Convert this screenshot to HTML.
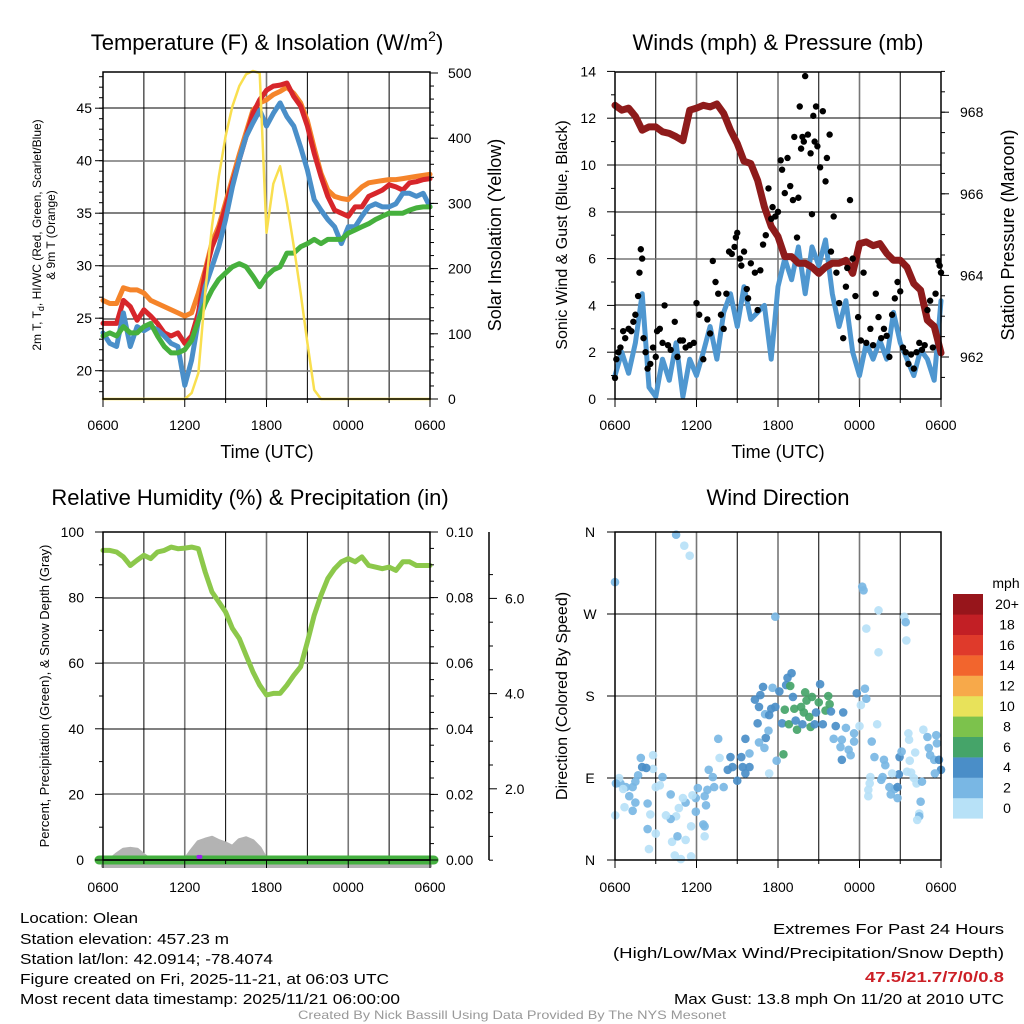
<!DOCTYPE html>
<html><head><meta charset="utf-8"><style>
html,body{margin:0;padding:0;background:#fff}
svg{display:block;font-family:"Liberation Sans",sans-serif}
</style></head><body>
<svg id="c" width="1024" height="1024" viewBox="0 0 1024 1024"></svg>
<script>
// ---------- DATA ----------
const hoursHalf=[];for(let i=0;i<=48;i++)hoursHalf.push(i/2);
const tempRed=[24.5,24.5,24.5,26.7,26.1,24.8,25.8,25.2,24.5,23.6,23.3,23.6,22.6,23.3,25.5,29.3,31.8,33.4,35.6,37.9,40.1,42.3,44.5,45.8,46.7,47.1,47.2,47.4,46.1,45.2,43.3,40.7,38.5,36.6,35.3,35.0,34.7,35.6,35.6,36.6,36.9,37.2,37.7,37.5,37.2,37.9,38.0,38.2,38.3];
const tempOrange=[26.7,26.4,26.4,27.9,27.7,27.7,27.4,26.7,26.4,26.1,25.8,25.5,25.2,25.5,27.4,29.6,32.2,33.8,36.0,38.3,40.6,42.7,44.8,45.5,45.8,46.3,46.6,47.0,46.4,45.5,43.8,41.2,38.8,37.2,36.6,36.4,36.3,36.9,37.5,37.9,38.0,38.1,38.2,38.2,38.3,38.4,38.5,38.6,38.7];
const tempBlue=[23.6,22.6,22.3,25.5,22.3,24.2,23.8,24.2,23.9,23.3,22.6,22.3,18.6,21.0,24.8,28.0,29.9,31.8,34.4,37.5,40.1,42.3,43.6,44.8,43.3,44.5,45.5,44.2,43.3,41.3,39.1,36.3,35.3,34.4,33.7,32.1,33.7,33.7,34.7,35.6,35.9,35.6,35.6,35.9,36.9,36.9,36.6,36.9,35.6];
const tempGreen=[23.3,23.6,23.3,24.2,23.6,23.6,24.2,24.5,23.3,22.3,21.7,21.7,22.0,22.9,24.8,26.4,27.7,28.7,29.3,29.9,30.2,29.9,29.0,28.0,29.0,29.6,29.9,31.2,31.2,31.8,32.1,32.5,32.1,32.5,32.5,32.5,33.1,33.4,33.7,34.0,34.4,34.7,35.0,35.0,35.0,35.3,35.5,35.6,35.6];
const solar=[0,0,0,0,0,0,0,0,0,0,0,0,0,9,40,163,265,341,403,449,480,498,503,500,255,330,357,301,234,163,86,14,0,0,0,0,0,0,0,0,0,0,0,0,0,0,0,0,0];
const windSpeed=[1.0,2.0,1.1,2.4,4.5,0.5,0.1,1.7,0.8,2.4,0.1,1.7,1.0,2.0,3.1,1.7,3.7,4.5,3.1,4.8,3.4,3.7,4.0,1.7,4.8,6.0,5.1,6.5,4.5,6.5,5.7,6.8,4.5,3.1,4.2,2.0,1.0,2.4,1.7,2.5,1.7,3.7,2.4,1.7,1.0,2.1,1.7,0.8,4.2];
const pressure=[968.17,968.05,968.1,967.9,967.56,967.64,967.64,967.52,967.48,967.4,967.3,968.05,968.1,968.17,968.13,968.2,967.97,967.56,967.23,966.8,966.74,966.33,965.68,965.2,964.95,964.46,964.46,964.3,964.3,964.2,964.05,964.2,964.3,964.3,964.37,964.05,964.78,964.82,964.73,964.78,964.54,964.37,964.37,964.2,963.8,963.64,962.9,962.75,962.1];
const gustHours=[0.0,0.1,0.25,0.4,0.6,0.75,1.0,1.2,1.35,1.5,1.7,1.8,1.9,2.0,2.1,2.25,2.4,2.6,2.8,3.0,3.1,3.3,3.5,3.65,3.9,4.1,4.4,4.6,4.8,5.0,5.2,5.5,5.8,6.0,6.2,6.5,6.8,7.0,7.2,7.4,7.6,7.8,8.0,8.2,8.4,8.6,8.8,8.9,9.0,9.2,9.3,9.5,9.7,9.8,10.0,10.3,10.5,10.7,10.9,11.1,11.3,11.5,11.6,11.8,12.0,12.2,12.3,12.5,12.7,12.9,13.1,13.2,13.4,13.5,13.6,13.7,13.8,13.9,14.0,14.2,14.4,14.5,14.6,14.7,14.8,14.9,15.1,15.3,15.5,15.6,15.8,15.9,16.1,16.3,16.5,16.8,17.0,17.1,17.3,17.5,17.7,17.9,18.1,18.3,18.5,18.8,19.0,19.2,19.4,19.6,19.8,20.0,20.2,20.4,20.6,20.8,21.0,21.2,21.4,21.6,21.8,22.0,22.2,22.4,22.6,22.8,23.0,23.2,23.4,23.6,23.8,23.9,24.0];
const gustValues=[0.9,1.7,2.0,2.2,2.9,2.6,3.0,2.9,3.3,3.6,4.4,5.4,6.4,6.0,2.6,2.0,1.3,1.5,2.2,1.8,2.9,3.0,2.4,4.0,2.3,2.1,3.3,1.8,2.5,2.5,2.2,2.3,2.4,4.1,3.6,1.7,3.4,2.8,5.9,5.0,4.5,3.6,3.0,4.5,6.3,6.2,6.5,6.9,7.1,6.0,5.7,6.3,4.7,4.3,5.8,5.4,3.8,5.5,6.6,7.0,9.0,7.7,8.2,7.8,8.0,10.2,9.8,8.8,10.3,9.1,8.5,11.2,6.9,8.6,12.5,10.7,11.2,11.0,13.8,11.3,10.5,7.9,12.1,11.0,12.5,10.8,9.9,12.3,9.3,10.3,11.3,6.3,7.8,5.4,4.1,2.6,4.8,5.6,8.5,6.0,4.4,3.5,2.5,5.4,2.4,3.0,2.3,4.5,3.5,2.6,3.0,2.7,1.8,3.6,4.3,5.0,4.6,2.2,2.0,1.5,1.9,1.3,2.0,2.4,2.1,2.3,3.8,4.2,2.2,4.5,5.9,5.7,5.4];
const rhValues=[94.4,94.4,93.9,92.4,89.8,91.4,92.9,91.9,93.9,94.4,95.4,94.9,95.1,95.4,94.9,87.8,81.7,78.7,75.6,70.6,67.5,62.4,57.4,53.3,50.3,50.8,50.8,53.3,56.3,58.9,66.5,74.6,80.7,85.8,88.8,90.9,91.9,90.9,92.4,89.8,89.3,88.8,89.3,88.3,90.9,90.9,89.8,89.8,89.8];
const snowDepth=[0.5,0.5,0.62,0.72,0.74,0.72,0.6,0.5,0.5,0.5,0.5,0.5,0.5,0.7,0.88,0.93,0.97,0.9,0.85,0.78,0.92,0.96,0.9,0.75,0.5,0.5,0.5,0.5,0.5,0.5,0.5,0.5,0.5,0.5,0.5,0.5,0.5,0.5,0.5,0.5,0.5,0.5,0.5,0.5,0.5,0.5,0.5,0.5,0.5];
const precipHours=[7.0,7.15];
const precipMarks=[0.0011,0.0011];
const dirHours=[0,4.5,5.1,5.5,11.8,18.2,18.3,19.4,18.5,19.4,21.3,21.4,21.45,13.0,12.7,12.6,11.6,10.9,10.7,10.3,10.6,12.1,12.9,14.0,14.5,15.7,15.1,13.1,14.1,15.0,15.8,12.5,13.2,13.7,13.9,14.3,14.8,15.5,15.9,16.8,11.5,11.8,11.05,11.35,10.5,12.3,12.8,13.3,13.4,14.4,13.8,14.7,15.3,16.25,17.0,17.8,18.4,18.5,18.1,18.0,19.3,17.6,17.6,16.7,16.6,17.2,17.35,16.7,16.1,12.4,11.9,11.35,11.1,10.6,11.0,11.3,9.6,9.9,7.6,7.7,8.5,8.65,9.3,9.4,9.9,9.6,9.0,8.3,6.9,7.2,7.3,8.0,6.8,6.1,6.6,6.7,5.95,5.7,5.95,5.2,5.0,4.7,4.5,4.1,3.75,4.1,3.5,3.3,3.0,2.8,2.8,1.9,2.0,2.3,1.7,1.5,1.3,1.05,0.8,0.4,0.3,0.07,0.6,0.7,1.3,1.5,2.4,2.6,2.4,3.0,2.5,4.2,4.6,5.2,4.4,4.85,5.6,5.6,6.5,6.6,6.6,0.02,18.9,19.1,19.8,19.9,18.8,18.75,18.65,18.65,19.6,19.7,20.2,20.3,20.6,20.8,20.8,20.9,20.95,21.1,21.6,21.65,22.1,21.7,21.8,22.0,22.2,22.6,22.5,22.4,22.4,22.25,22.7,23.0,23.1,23.2,23.5,23.65,23.7,23.85,24.0,23.55,21.5,20.4];
const dirDegs=[305,357,345,334,267,300,296,274,254,228,267,261,241,205,200,192,189,190,181,176,168,185,191,184,179,180,193,179,175,173,171,165,166,168,162,157,162,164,163,162,166,168,160,159,150,150,149,153,143,146,149,149,149,147,145,183,188,177,170,147,149,139,130,132,124,121,115,110,133,116,109,95,134,129,123,142,133,117,133,112,113,102,113,102,102,95,87,99,99,91,80,80,77,79,70,60,68,71,53,63,68,57,48,45,49,72,91,82,80,100,115,112,102,101,93,86,80,70,80,84,90,84,78,58,54,63,62,50,34,29,12,20,26,22,5,1,4,37,39,37,26,49,130,113,110,104,91,84,77,70,88,91,80,72,78,68,80,94,113,119,139,132,118,109,96,90,84,86,64,51,48,44,143,135,123,115,110,137,128,110,99,95,97,95];
const dirSpeeds=[3,3,1,1,3,3,3,1,1,1,1,3,1,5,5,5,3,5,5,5,5,5,7,7,7,7,5,5,7,7,7,7,7,7,7,7,5,7,5,5,5,5,3,5,5,5,7,5,7,7,5,5,5,5,3,5,3,3,1,1,1,3,3,3,3,3,3,5,3,7,3,1,5,3,3,3,5,3,3,1,5,5,5,5,5,5,5,5,3,3,3,3,3,3,3,3,3,1,3,3,1,1,1,3,1,3,3,1,1,1,1,3,5,5,3,3,3,3,3,3,1,3,1,1,3,3,3,1,3,1,1,1,3,1,1,1,1,1,3,3,1,1,3,3,3,3,1,1,1,1,3,3,3,3,3,3,5,5,5,3,1,1,1,1,1,1,1,3,3,1,3,1,1,3,3,3,3,3,3,5,5,3,1,1];
const speedBins=["0","2","4","6","8","10","12","14","16","18","20+"];
const speedColors=["#b7e1f7","#79b7e4","#4a8ec8","#45a469","#7cc24c","#e8e25a","#f7a94a","#f2652d","#df3a2b","#c21f25","#97151b"];
const timeTicks=["0600","1200","1800","0000","0600"];

// ---------- HELPERS ----------
const S=document.getElementById('c');const NS='http://www.w3.org/2000/svg';
function mk(tag,at,parent){const e=document.createElementNS(NS,tag);for(const k in at)e.setAttribute(k,at[k]);(parent||S).appendChild(e);return e;}
function txt(x,y,s,size,anchor,extra){const e=mk('text',Object.assign({x:x,y:y,'font-size':size,'text-anchor':anchor||'start',fill:'#000'},extra||{}));e.textContent=s;return e;}
function grid(x0,x1,y0,y1,hy){
  for(let i=1;i<8;i++){const x=x0+(x1-x0)*i/8;const l=mk('line',{x1:x,x2:x,y1:y0,y2:y1,stroke:i%2==0?'#777':'#000','stroke-width':i%2==0?1.6:1});
  }
  hy.forEach((y,i)=>{const l=mk('line',{x1:x0,x2:x1,y1:y,y2:y,stroke:i%2? '#777':'#000','stroke-width':i%2?1.6:1});
  });
}
function frame(x0,x1,y0,y1,name){const r=mk('rect',{x:x0,y:y0,width:x1-x0,height:y1-y0,fill:'none',stroke:'#000','stroke-width':1.5});
  }
function xTicks(x0,x1,y1,ly){for(let i=0;i<=8;i++){const x=x0+(x1-x0)*i/8;mk('line',{x1:x,x2:x,y1:y1,y2:y1+(i%2?4:8),stroke:'#000'});}
  timeTicks.forEach((t,i)=>{const e=txt(x0+(x1-x0)*i/4,ly,t,14,'middle');});}
function poly(xs,ys,col,w,name){const d=xs.map((x,i)=>(i?'L':'M')+x.toFixed(1)+' '+ys[i].toFixed(1)).join('');
  const p=mk('path',{d:d,fill:'none',stroke:col,'stroke-width':w,'stroke-linejoin':'round','stroke-linecap':'round'});
  return p;}

// ---------- PANEL 1 ----------
{const X0=103,X1=430,Y0=72,Y1=399;
 const xs=h=>X0+(X1-X0)*h/24; const yT=t=>370.7-(t-20)*10.5; const yW=w=>399-w*0.652;
 grid(X0,X1,Y0,Y1,[108,161,213,266,319,371]);
 const hx=hoursHalf.map(xs);
 poly(hx,tempOrange.map(yT),'#f5842a',5,'series-9m-temp');
 poly(hx,tempRed.map(yT),'#d7262b',5,'series-2m-temp');
 poly(hx,tempBlue.map(yT),'#4a8fc9',5,'series-heat-index-wind-chill');
 poly(hx,tempGreen.map(yT),'#46b03d',5,'series-dewpoint');
 poly(hx,solar.map(yW),'#f9df4f',2.5,'series-solar-insolation');
 frame(X0,X1,Y0,Y1,'temperature-plot-frame');
 xTicks(X0,X1,Y1,430);
 for(let t=20;t<=45;t+=5){mk('line',{x1:X0-8,x2:X0,y1:yT(t),y2:yT(t),stroke:'#000'});const e=txt(92,yT(t)+5,String(t),14,'end');}
 for(let t=18;t<=48;t++){mk('line',{x1:X0-4,x2:X0,y1:yT(t),y2:yT(t),stroke:'#000'});}
 for(let w=0;w<=500;w+=100){mk('line',{x1:X1,x2:X1+8,y1:yW(w),y2:yW(w),stroke:'#000'});const e=txt(448,yW(w)+5,String(w),14,'start');}
 for(let w=0;w<=500;w+=20){mk('line',{x1:X1,x2:X1+4,y1:yW(w),y2:yW(w),stroke:'#000'});}
 const t1=txt(267,50,'Temperature (F) & Insolation (W/m',22,'middle');const ts=mk('tspan',{'font-size':14,dy:-9},t1);ts.textContent='2';const ts2=mk('tspan',{dy:9},t1);ts2.textContent=')';
 
 const xt=txt(267,458,'Time (UTC)',18,'middle');
 const rt=txt(0,0,'Solar Insolation (Yellow)',18,'middle',{transform:'translate(501,235) rotate(-90)'});
 const lt=txt(0,0,'2m T, T',12,'middle',{transform:'translate(41,235) rotate(-90)'});const sb=mk('tspan',{'font-size':9,dy:3},lt);sb.textContent='d';const s2=mk('tspan',{dy:-3},lt);s2.textContent=', HI/WC (Red, Green, Scarlet/Blue)';
 
 const lt2=txt(0,0,'& 9m T (Orange)',12,'middle',{transform:'translate(55,235) rotate(-90)'});
}
// ---------- PANEL 2 ----------
{const X0=615,X1=941,Y0=72,Y1=399;
 const xs=h=>X0+(X1-X0)*h/24; const yS=v=>399-v*23.4; const yP=p=>357-(p-962)*40.8;
 grid(X0,X1,Y0,Y1,[118,165,212,259,305,352]);
 poly(hoursHalf.map(xs),windSpeed.map(yS),'#4f97d0',5,'series-sonic-wind');
 poly(hoursHalf.map(xs),pressure.map(yP),'#8e1b1b',7,'series-station-pressure');
 gustHours.forEach((h,i)=>{const c=mk('circle',{cx:xs(h),cy:yS(gustValues[i]),r:3.2,fill:'#000'});
  });
 frame(X0,X1,Y0,Y1,'winds-plot-frame');
 xTicks(X0,X1,Y1,430);
 for(let v=0;v<=14;v+=2){mk('line',{x1:X0-8,x2:X0,y1:yS(v),y2:yS(v),stroke:'#000'});const e=txt(596,yS(v)+5,String(v),14,'end');}
 for(let v=1;v<=14;v+=2){mk('line',{x1:X0-4,x2:X0,y1:yS(v),y2:yS(v),stroke:'#000'});}
 for(let p=962;p<=968;p+=2){mk('line',{x1:X1,x2:X1+8,y1:yP(p),y2:yP(p),stroke:'#000'});const e=txt(960,yP(p)+5,String(p),14,'start');}
 for(let p=961.5;p<=969;p+=0.5){mk('line',{x1:X1,x2:X1+4,y1:yP(p),y2:yP(p),stroke:'#000'});}
 const t=txt(778,50,'Winds (mph) & Pressure (mb)',22,'middle');
 const xt=txt(778,458,'Time (UTC)',18,'middle');
 const lt=txt(0,0,'Sonic Wind & Gust (Blue, Black)',16,'middle',{transform:'translate(567,235) rotate(-90)'});
 const rt=txt(0,0,'Station Pressure (Maroon)',18,'middle',{transform:'translate(1014,235) rotate(-90)'});
}
// ---------- PANEL 3 ----------
{const X0=103,X1=430,Y0=532,Y1=860;
 const xs=h=>X0+(X1-X0)*h/24; const yR=r=>860-r*3.28; const yD=d=>884-d*47.6; const yPr=p=>860-p*3280;
 grid(X0,X1,Y0,Y1,[598,663,729,794]);
 // snow depth area
 const hx=hoursHalf.map(xs);
 let d='M'+hx[0]+' 866';hx.forEach((x,i)=>{d+='L'+x.toFixed(1)+' '+Math.min(yD(snowDepth[i]),866).toFixed(1);});d+='L'+hx[hx.length-1]+' 866Z';
 const a=mk('path',{d:d,fill:'#b3b3b3',stroke:'#b3b3b3','stroke-width':4,'stroke-linejoin':'round'});
 const pl=mk('line',{x1:X0-4,x2:X1+4,y1:860,y2:860,stroke:'#45b040','stroke-width':9,'stroke-linecap':'round'});
 mk('line',{x1:X0,x2:X1,y1:860,y2:860,stroke:'#000','stroke-width':1.5});
 precipHours.forEach((h,i)=>{const c=mk('circle',{cx:xs(h),cy:yPr(precipMarks[i])+0.5,r:2,fill:'#a020f0'});});
 poly(hx,rhValues.map(yR),'#8cc84b',5,'series-relative-humidity');
 frame(X0,X1,Y0,Y1,'humidity-plot-frame');
 xTicks(X0,X1,Y1,892);
 for(let r=0;r<=100;r+=20){mk('line',{x1:X0-8,x2:X0,y1:yR(r),y2:yR(r),stroke:'#000'});const e=txt(84,yR(r)+5,String(r),14,'end');}
 for(let r=10;r<=100;r+=20){mk('line',{x1:X0-4,x2:X0,y1:yR(r),y2:yR(r),stroke:'#000'});}
 for(let i=0;i<=5;i++){const p=i*0.02;mk('line',{x1:X1,x2:X1+8,y1:yPr(p),y2:yPr(p),stroke:'#000'});const e=txt(446,yPr(p)+5,p.toFixed(2),14,'start');}
 for(let i=0;i<=20;i++){mk('line',{x1:X1,x2:X1+4,y1:yPr(i*0.005),y2:yPr(i*0.005),stroke:'#000'});}
 const ax=mk('line',{x1:489,x2:489,y1:532,y2:860,stroke:'#000','stroke-width':1.5});
 for(let s=1;s<=6;s++){mk('line',{x1:489,x2:489+(s%2?4:8),y1:yD(s),y2:yD(s),stroke:'#000'});if(s%2==0){const e=txt(505,yD(s)+5,s.toFixed(1),14,'start');}}
 for(let s=0.5;s<=6.9;s+=1){mk('line',{x1:489,x2:493,y1:yD(s),y2:yD(s),stroke:'#000'});}
 const t=txt(250,505,'Relative Humidity (%) & Precipitation (in)',22,'middle');
 const lt=txt(0,0,'Percent, Precipitation (Green), & Snow Depth (Gray)',13,'middle',{transform:'translate(49,696) rotate(-90)'});
}
// ---------- PANEL 4 ----------
{const X0=615,X1=941,Y0=532,Y1=860;
 const xs=h=>X0+(X1-X0)*h/24; const yD=g=>860-g*(328/360);
 grid(X0,X1,Y0,Y1,[614,696,778]);
 const col=v=>speedColors[Math.min(10,Math.floor(v/2))];
 dirHours.forEach((h,i)=>{const c=mk('circle',{cx:xs(h),cy:yD(dirDegs[i]),r:4.3,fill:col(dirSpeeds[i]),'fill-opacity':0.92});
  });
 frame(X0,X1,Y0,Y1,'direction-plot-frame');
 xTicks(X0,X1,Y1,892);
 ["N","E","S","W","N"].forEach((l,i)=>{const y=yD(i*90);mk('line',{x1:X0-8,x2:X0,y1:y,y2:y,stroke:'#000'});const e=txt(590,y+5,l,14,'middle');});
 const t=txt(778,505,'Wind Direction',22,'middle');
 const lt=txt(0,0,'Direction (Colored By Speed)',16,'middle',{transform:'translate(567,696) rotate(-90)'});
 // colorbar
 const u=txt(1006,588,'mph',14,'middle');
 for(let i=0;i<11;i++){const y=594+(10-i)*20.4;const r=mk('rect',{x:953,y:y,width:30,height:20.6,fill:speedColors[i]});
  
  const e=txt(1007,y+15,speedBins[i],14,'middle');}
}
// ---------- FOOTER ----------
const foot=[["Location: Olean",923,118],["Station elevation: 457.23 m",944,209],["Station lat/lon: 42.0914; -78.4074",964,253],["Figure created on Fri, 2025-11-21, at 06:03 UTC",984,369],["Most recent data timestamp: 2025/11/21 06:00:00",1004,380]];
foot.forEach(f=>{const e=txt(20,f[1],f[0],15,'start',{textLength:f[2],lengthAdjust:'spacingAndGlyphs'});});
const rf=[["Extremes For Past 24 Hours",934,231,'#000','normal'],["(High/Low/Max Wind/Precipitation/Snow Depth)",958,391,'#000','normal'],["47.5/21.7/7/0/0.8",982,139,'#cc1f26','bold'],["Max Gust: 13.8 mph On 11/20 at 2010 UTC",1004,330,'#000','normal']];
rf.forEach(f=>{const e=txt(1004,f[1],f[0],15,'end',{textLength:f[2],lengthAdjust:'spacingAndGlyphs',fill:f[3],'font-weight':f[4]});});
const cr=txt(512,1019,'Created By Nick Bassill Using Data Provided By The NYS Mesonet',12,'middle',{fill:'#999',textLength:428,lengthAdjust:'spacingAndGlyphs'});

</script>
</body></html>
